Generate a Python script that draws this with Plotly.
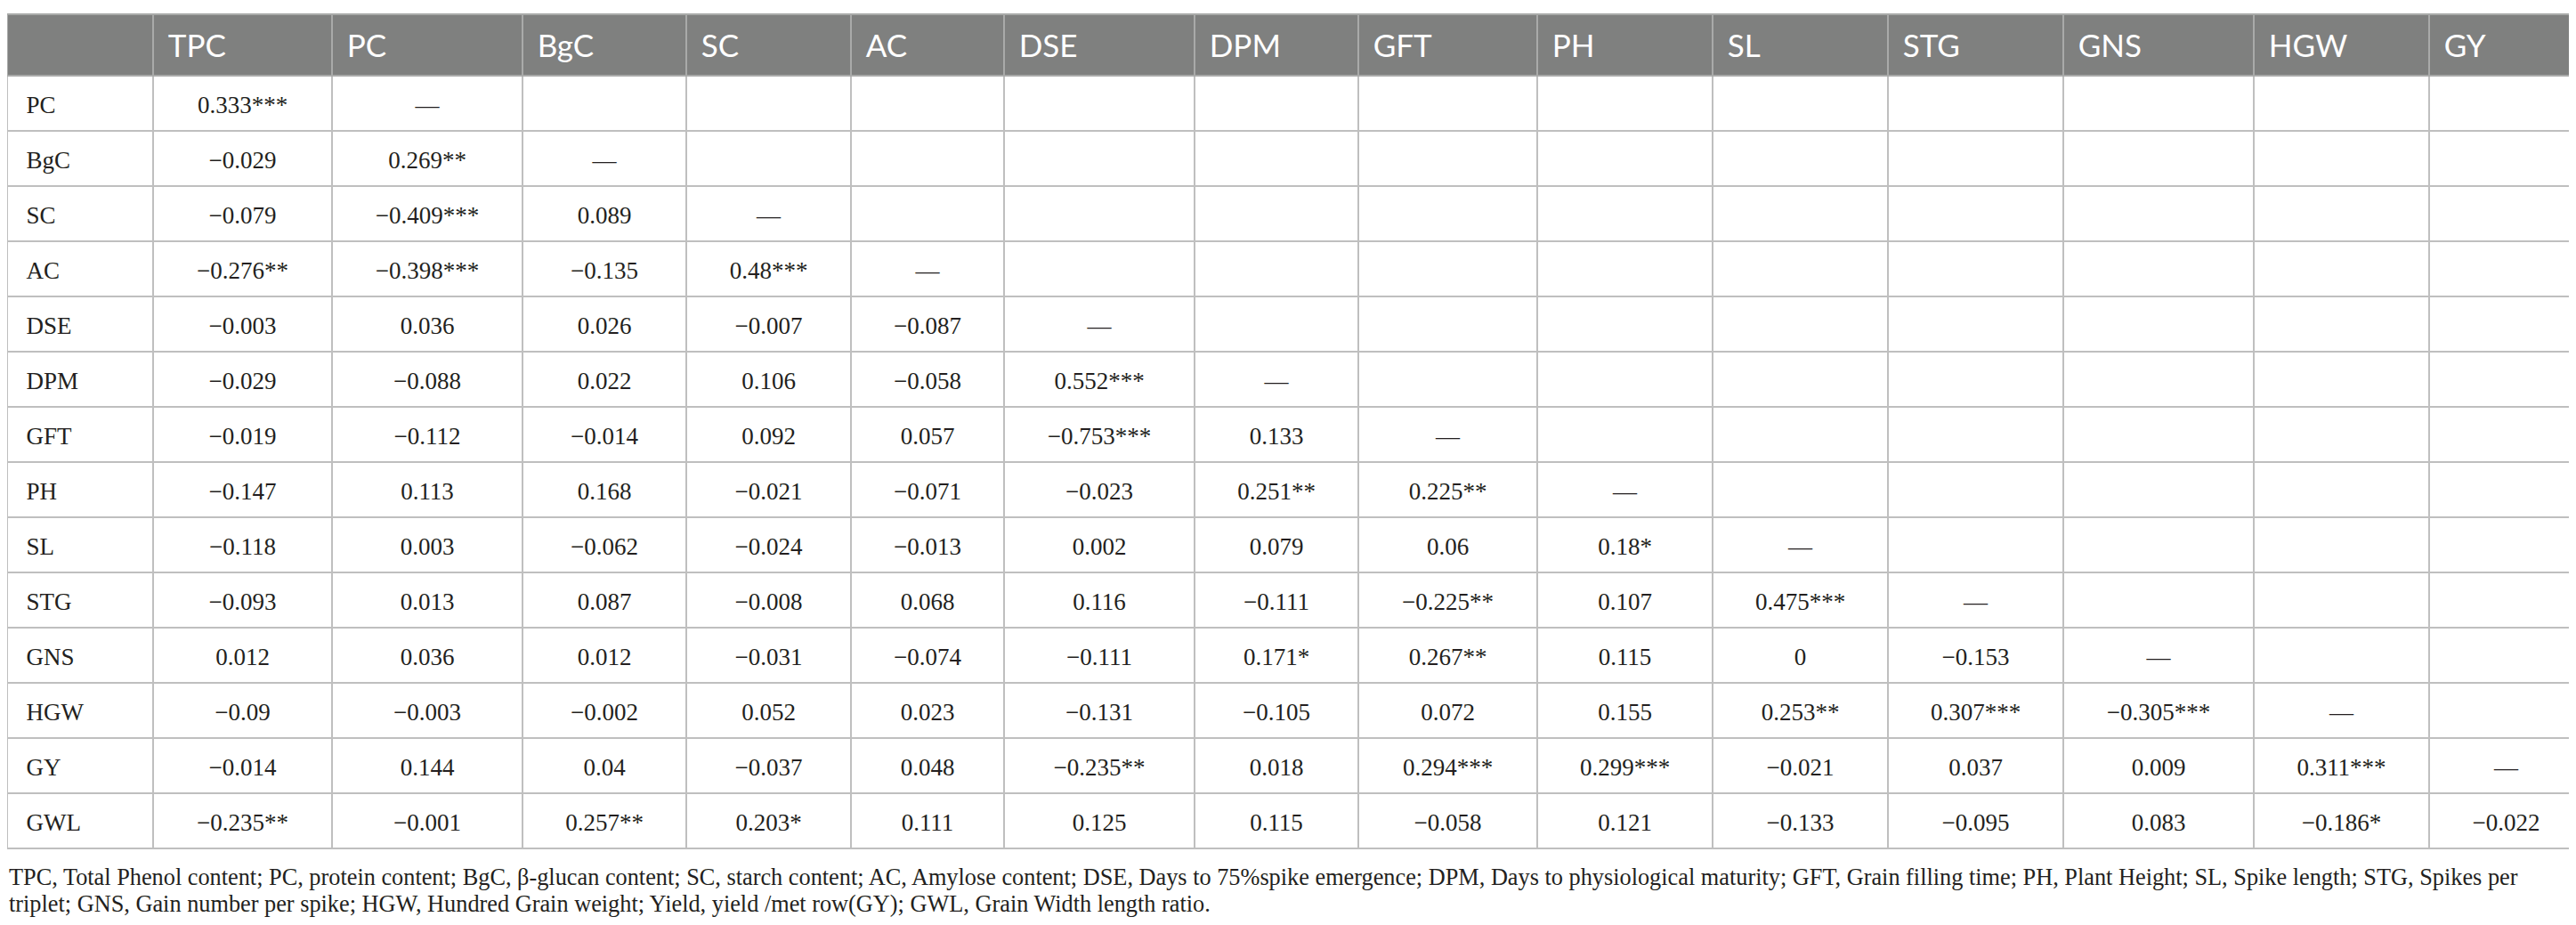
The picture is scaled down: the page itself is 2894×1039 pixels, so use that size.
import plotly.graph_objects as go

# Variables on the header and down the first column
col_vars = ["TPC", "PC", "BgC", "SC", "AC", "DSE", "DPM", "GFT", "PH", "SL", "STG", "GNS", "HGW", "GY"]
row_vars = ["PC", "BgC", "SC", "AC", "DSE", "DPM", "GFT", "PH", "SL", "STG", "GNS", "HGW", "GY", "GWL"]

# Lower triangle of the correlation matrix, one list per row (* p<0.05, ** p<0.01, *** p<0.001)
r_PC = ["0.333***"]
r_BgC = ["-0.029", "0.269**"]
r_SC = ["-0.079", "-0.409***", "0.089"]
r_AC = ["-0.276**", "-0.398***", "-0.135", "0.48***"]
r_DSE = ["-0.003", "0.036", "0.026", "-0.007", "-0.087"]
r_DPM = ["-0.029", "-0.088", "0.022", "0.106", "-0.058", "0.552***"]
r_GFT = ["-0.019", "-0.112", "-0.014", "0.092", "0.057", "-0.753***", "0.133"]
r_PH = ["-0.147", "0.113", "0.168", "-0.021", "-0.071", "-0.023", "0.251**", "0.225**"]
r_SL = ["-0.118", "0.003", "-0.062", "-0.024", "-0.013", "0.002", "0.079", "0.06", "0.18*"]
r_STG = ["-0.093", "0.013", "0.087", "-0.008", "0.068", "0.116", "-0.111", "-0.225**", "0.107", "0.475***"]
r_GNS = ["0.012", "0.036", "0.012", "-0.031", "-0.074", "-0.111", "0.171*", "0.267**", "0.115", "0", "-0.153"]
r_HGW = ["-0.09", "-0.003", "-0.002", "0.052", "0.023", "-0.131", "-0.105", "0.072", "0.155", "0.253**",
         "0.307***", "-0.305***"]
r_GY = ["-0.014", "0.144", "0.04", "-0.037", "0.048", "-0.235**", "0.018", "0.294***", "0.299***", "-0.021",
        "0.037", "0.009", "0.311***"]
r_GWL = ["-0.235**", "-0.001", "0.257**", "0.203*", "0.111", "0.125", "0.115", "-0.058", "0.121", "-0.133",
         "-0.095", "0.083", "-0.186*", "-0.022"]

rows = [r_PC, r_BgC, r_SC, r_AC, r_DSE, r_DPM, r_GFT, r_PH, r_SL, r_STG, r_GNS, r_HGW, r_GY, r_GWL]

footnote_1 = ("TPC, Total Phenol content; PC, protein content; BgC, β-glucan content; SC, starch content; "
              "AC, Amylose content; DSE, Days to 75%spike emergence; DPM, Days to physiological maturity; "
              "GFT, Grain filling time; PH, Plant Height; SL, Spike length; STG, Spikes per")
footnote_2 = ("triplet; GNS, Gain number per spike; HGW, Hundred Grain weight; Yield, yield /met row(GY); "
              "GWL, Grain Width length ratio.")

# Build the table column by column: value, a dash on the diagonal, blank above it
columns = [row_vars]
for c in range(len(col_vars)):
    col = []
    for r, vals in enumerate(rows):
        if c < len(vals):
            col.append(vals[c].replace("-", "\u2212"))
        elif c == len(vals):
            col.append("\u2014")
        else:
            col.append("")
    columns.append(col)

W, H = 2894, 1039
TOP = 8
col_w = [164, 201, 214, 184, 185, 172, 214, 184, 201, 197, 197, 197, 214, 197, 173]
HEAD_H, ROW_H = 69, 62
TEXT_DROP = 14  # table text sits at the top of cells, so the text layer is moved down a bit

header_gray = "#7f807f"
serif = "Liberation Serif"
body_color = "#231f20"

fig = go.Figure()

# grid layer: fills and rules
fig.add_trace(go.Table(
    domain=dict(x=[0, 1], y=[0, 1]),
    columnwidth=col_w,
    header=dict(values=[""] * (len(col_vars) + 1), height=HEAD_H, fill_color=header_gray,
                line=dict(color="#a9aaa9", width=1.5)),
    cells=dict(values=[[""] * len(row_vars)] * (len(col_vars) + 1), height=ROW_H, fill_color="white",
               line=dict(color="#bfbfbf", width=1.5)),
))

# text layer
clear = "rgba(0,0,0,0)"
fig.add_trace(go.Table(
    domain=dict(x=[0, 1], y=[0, 1 - TEXT_DROP / (H - TOP)]),
    columnwidth=col_w,
    header=dict(values=[""] + col_vars, height=HEAD_H, fill_color=clear, line=dict(color=clear, width=0),
                align="left", prefix="\u2009\u2009",
                font=dict(family="Lato", size=35, color="white")),
    cells=dict(values=columns, height=ROW_H, fill_color=clear, line=dict(color=clear, width=0),
               align=["left"] + ["center"] * len(col_vars),
               prefix=["\u2002"] + [""] * len(col_vars),
               font=dict(family=serif, size=27, color=body_color)),
))


def ypx(px):
    return (H - px) / (H - TOP)


for txt, y in [(footnote_1, 977), (footnote_2, 1007)]:
    fig.add_annotation(text=txt, xref="paper", yref="paper", x=0, y=ypx(y), xanchor="left", yanchor="middle",
                       showarrow=False, font=dict(family=serif, size=26.3, color=body_color))

fig.update_layout(width=W, height=H, margin=dict(l=0, r=0, t=TOP, b=0), paper_bgcolor="white")
fig.write_html("out.html")
